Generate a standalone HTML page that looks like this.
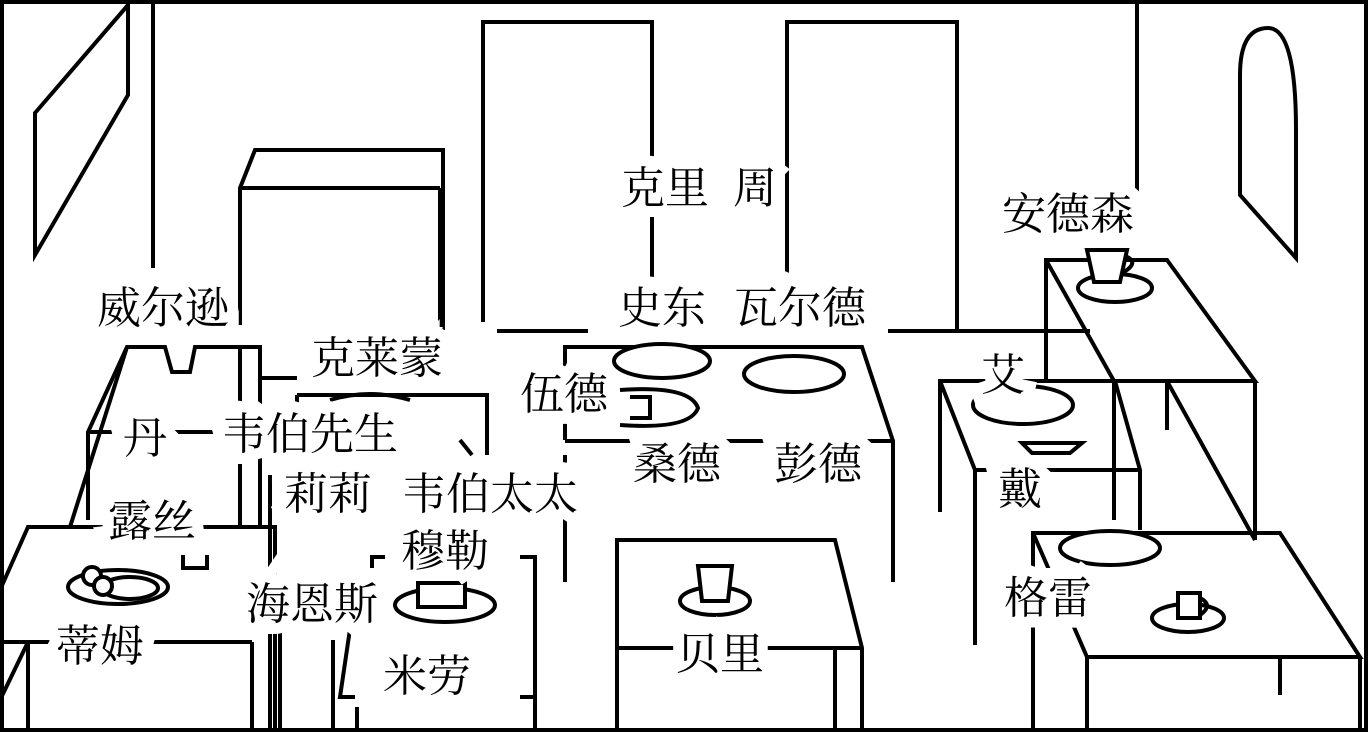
<!DOCTYPE html>
<html><head><meta charset="utf-8"><style>
html,body{margin:0;padding:0;background:#fff}
svg{display:block}
text{font-family:"Liberation Serif","Noto Serif CJK SC","Noto Sans CJK SC",serif;font-size:44px;fill:#000;stroke:#fff;stroke-width:22px;paint-order:stroke;stroke-linejoin:miter;text-anchor:middle}
</style></head><body>
<svg width="1368" height="732" viewBox="0 0 1368 732" xmlns="http://www.w3.org/2000/svg">
<g fill="none" stroke="#000" stroke-width="4">
<rect x="2" y="2" width="1364" height="728"/>
<polygon points="35,113 128,5 128,95 35,255"/>
<line x1="153" y1="0" x2="153" y2="268"/>
<polyline points="240,325 240,188 255,150 443,150 443,330"/>
<line x1="240" y1="188" x2="440" y2="188"/>
<line x1="440" y1="188" x2="440" y2="330"/>
<polyline points="483,322 483,22 652,22 652,330"/>
<polyline points="787,330 787,22 957,22 957,330"/>
<line x1="497" y1="331" x2="588" y2="331"/>
<line x1="888" y1="331" x2="1090" y2="331"/>
<line x1="1137" y1="0" x2="1137" y2="205"/>
<path d="M1240,195 L1240,75 Q1240,28 1268,28 Q1296,28 1296,130 L1296,258 Z"/>
<polyline points="1046,380 1046,260 1167,260 1255,381 1114,381 1046,260"/>
<line x1="1114" y1="381" x2="1114" y2="520"/>
<line x1="1255" y1="381" x2="1255" y2="540"/>
<line x1="1167" y1="381" x2="1167" y2="430"/>
<line x1="1167" y1="381" x2="1255" y2="540"/>
<ellipse cx="1115" cy="288" rx="37" ry="14"/>
<path d="M1087,250 L1127,250 L1120,282 L1094,282 Z" fill="#fff"/>
<path d="M1125,256 Q1140,262 1124,272"/>
<polyline points="940,512 940,381 1115,381 1140,470 1140,530"/>
<line x1="940" y1="381" x2="975" y2="470"/>
<line x1="975" y1="470" x2="975" y2="645"/>
<line x1="975" y1="470" x2="1140" y2="470"/>
<ellipse cx="1023" cy="405" rx="50" ry="19"/>
<polygon points="1022,443 1082,443 1070,453 1032,453"/>
<polyline points="1033,732 1033,533 1280,533 1360,657 1087,657 1033,533"/>
<line x1="1087" y1="657" x2="1087" y2="732"/>
<line x1="1360" y1="657" x2="1360" y2="732"/>
<line x1="1280" y1="657" x2="1280" y2="695"/>
<ellipse cx="1110" cy="548" rx="50" ry="17" fill="#fff"/>
<ellipse cx="1188" cy="618" rx="36" ry="14"/>
<rect x="1178" y="593" width="22" height="25" fill="#fff"/>
<path d="M1200,598 Q1214,605 1200,615"/>
<polyline points="565,440 565,347 862,347 893,441 893,582"/>
<line x1="565" y1="441" x2="893" y2="441"/>
<line x1="565" y1="455" x2="565" y2="582"/>
<ellipse cx="662" cy="361" rx="48" ry="17" fill="#fff"/>
<ellipse cx="794" cy="374" rx="50" ry="18"/>
<path d="M620,390 Q690,385 698,408 Q690,430 620,425"/>
<polyline points="630,397 650,397 650,418 630,418"/>
<polyline points="617,732 617,540 835,540 862,648 862,732"/>
<line x1="617" y1="648" x2="862" y2="648"/>
<line x1="835" y1="648" x2="835" y2="732"/>
<ellipse cx="715" cy="601" rx="35" ry="14"/>
<path d="M698,566 L732,566 L728,601 L702,601 Z" fill="#fff"/>
<polyline points="88,520 88,432 127,347 165,347 172,372 190,372 195,347 260,347 260,525"/>
<line x1="88" y1="432" x2="260" y2="432"/>
<line x1="127" y1="347" x2="70" y2="527"/>
<line x1="240" y1="347" x2="240" y2="527"/>
<polyline points="0,590 28,527 275,527 275,732"/>
<line x1="0" y1="642" x2="252" y2="642"/>
<line x1="28" y1="642" x2="28" y2="732"/>
<line x1="252" y1="642" x2="252" y2="732"/>
<line x1="28" y1="642" x2="0" y2="700"/>
<polyline points="183,555 183,568 207,568 207,555"/>
<ellipse cx="118" cy="587" rx="50" ry="17"/>
<ellipse cx="130" cy="588" rx="28" ry="11"/>
<circle cx="92" cy="576" r="9" fill="#fff"/>
<circle cx="103" cy="586" r="9" fill="#fff"/>
<polyline points="260,378 297,378"/>
<polyline points="297,395 487,395 487,455"/>
<line x1="297" y1="395" x2="297" y2="510"/>
<line x1="270" y1="475" x2="270" y2="732"/>
<line x1="280" y1="600" x2="280" y2="732"/>
<path d="M330,400 Q370,388 410,400"/>
<line x1="460" y1="440" x2="472" y2="455"/>
<polyline points="372,568 372,557 385,557"/>
<polyline points="520,557 535,557 535,732"/>
<polyline points="355,595 340,697 355,697"/>
<line x1="520" y1="697" x2="535" y2="697"/>
<line x1="357" y1="707" x2="357" y2="732"/>
<line x1="333" y1="640" x2="333" y2="732"/>
<ellipse cx="445" cy="605" rx="50" ry="17"/>
<rect x="418" y="583" width="47" height="24" fill="#fff"/>
</g>
<g>
<text x="665" y="203">克里</text>
<text x="755" y="203">周</text>
<text x="1068" y="229">安德森</text>
<text x="163" y="323">威尔逊</text>
<text x="662" y="323">史东</text>
<text x="800" y="323">瓦尔德</text>
<text x="377" y="373">克莱蒙</text>
<text x="564" y="409">伍德</text>
<text x="1003" y="390">艾</text>
<text x="145" y="453">丹</text>
<text x="310" y="449">韦伯先生</text>
<text x="677" y="479">桑德</text>
<text x="818" y="479">彭德</text>
<text x="328" y="509">莉莉</text>
<text x="490" y="509">韦伯太太</text>
<text x="1020" y="504">戴</text>
<text x="152" y="536">露丝</text>
<text x="445" y="566">穆勒</text>
<text x="312" y="619">海恩斯</text>
<text x="1048" y="613">格雷</text>
<text x="100" y="661">蒂姆</text>
<text x="720" y="669">贝里</text>
<text x="427" y="691">米劳</text>
</g>
</svg>
</body></html>
